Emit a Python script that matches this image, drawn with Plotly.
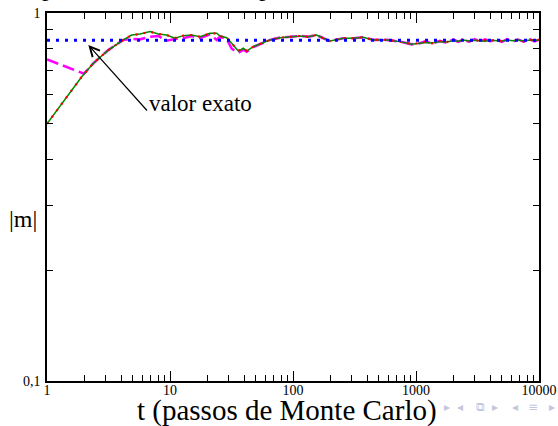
import plotly.graph_objects as go

# ---------------- data ----------------
t_green = [1, 1.915, 2.379, 3.15, 4.172, 4.883, 5.703, 6.877, 8.034, 9.40, 10.98, 12.83,
           15.01, 17.54, 21.14, 23.97, 25.50, 28.91, 31.74, 35.92, 39.44, 42.03, 47.56,
           55.66, 65.01, 78.4, 94.5, 114.0, 133.2, 155.8, 176.3, 199.9, 219.5, 256.4,
           309.2, 372.8, 449.6, 577.9, 741.2, 922.6, 1078, 1200, 1350, 1567, 1750, 2011,
           2200, 2424, 2700, 3000, 3314, 3650, 4000, 4530, 5000, 5500, 6182, 6800, 7500,
           8451, 9200, 10000]
m_green = [0.500, 0.671, 0.730, 0.793, 0.845, 0.871, 0.877, 0.890, 0.877, 0.871, 0.854, 0.868,
           0.871, 0.862, 0.881, 0.881, 0.866, 0.857, 0.827, 0.788, 0.802, 0.788, 0.810,
           0.827, 0.845, 0.857, 0.862, 0.866, 0.862, 0.871, 0.854, 0.839, 0.845, 0.854,
           0.854, 0.859, 0.845, 0.845, 0.836, 0.822, 0.827, 0.832, 0.829, 0.836, 0.834, 0.841,
           0.838, 0.845, 0.840, 0.843, 0.841, 0.838, 0.843, 0.841, 0.839, 0.843, 0.841, 0.844,
           0.840, 0.845, 0.842, 0.845]

t_red = t_green
m_red = [0.500, 0.671, 0.730, 0.793, 0.845, 0.871, 0.877, 0.889, 0.877, 0.871, 0.855, 0.868,
         0.871, 0.862, 0.880, 0.881, 0.866, 0.857, 0.827, 0.790, 0.802, 0.789, 0.810,
         0.827, 0.845, 0.857, 0.863, 0.866, 0.862, 0.872, 0.854, 0.839, 0.846, 0.854,
         0.855, 0.859, 0.845, 0.846, 0.836, 0.824, 0.829, 0.836, 0.827, 0.839, 0.832, 0.846,
         0.836, 0.849, 0.838, 0.846, 0.837, 0.844, 0.840, 0.847, 0.837, 0.846, 0.839, 0.848,
         0.838, 0.847, 0.840, 0.846]

t_magenta = [1, 1.72, 2.0, 2.379, 3.15, 4.172, 4.883, 5.703, 6.877, 8.034, 9.40, 10.98, 12.83,
             15.01, 17.54, 21.14, 23.97, 25.50, 28.91, 31.74, 35.92, 39.44, 42.03, 47.56,
             55.66, 65.01, 78.4, 94.5, 114.0, 133.2, 155.8, 176.3, 199.9, 219.5, 256.4,
             309.2, 372.8, 449.6, 577.9, 741.2, 922.6, 1078, 1200, 1350, 1567, 1750, 2011,
             2200, 2424, 2700, 3000, 3314, 3650, 4000, 4530, 5000, 5500, 6182, 6800, 7500,
             8451, 9200, 10000]
m_magenta = [0.748, 0.700, 0.684, 0.730, 0.793, 0.845, 0.850, 0.848, 0.862, 0.866, 0.841, 0.850,
             0.854, 0.866, 0.854, 0.875, 0.845, 0.862, 0.850, 0.800, 0.780, 0.795, 0.785, 0.808,
             0.827, 0.845, 0.857, 0.862, 0.866, 0.862, 0.871, 0.854, 0.839, 0.845, 0.854,
             0.854, 0.859, 0.845, 0.845, 0.836, 0.822, 0.828, 0.838, 0.826, 0.840, 0.831, 0.847,
             0.835, 0.846, 0.836, 0.849, 0.836, 0.848, 0.838, 0.846, 0.835, 0.849, 0.838, 0.847,
             0.836, 0.848, 0.838, 0.846]

t_exact = [1, 10000]
m_exact = [0.843, 0.843]

x_tickvals = [1, 10, 100, 1000, 10000]
x_ticktext = ["1", "10", "100", "1000", "10000"]
y_tickvals = [0.1, 1]
y_ticktext = ["0,1", "1"]
x_minor = [k * 10 ** d for d in range(4) for k in range(2, 10)]
y_minor = [0.2, 0.3, 0.4, 0.5, 0.6, 0.7, 0.8, 0.9]

SERIF = "Liberation Serif"

fig = go.Figure()
fig.add_trace(go.Scatter(x=t_magenta, y=m_magenta, mode="lines",
                         line=dict(color="#ff00ff", width=2.6, dash="12px,5px")))
fig.add_trace(go.Scatter(x=t_green, y=m_green, mode="lines",
                         line=dict(color="rgb(0,139,0)", width=1.5)))
fig.add_trace(go.Scatter(x=t_red, y=m_red, mode="lines",
                         line=dict(color="#ff0000", width=2.2, dash="2px,6px")))
fig.add_trace(go.Scatter(x=t_exact, y=m_exact, mode="lines",
                         line=dict(color="#0000ff", width=3, dash="3px,6px")))

axis_common = dict(
    type="log", showline=True, linecolor="black", linewidth=1.5, mirror="allticks",
    ticks="inside", tickcolor="black", tickwidth=1.2, showgrid=False, zeroline=False,
    automargin=False,
    tickfont=dict(family=SERIF, size=14, color="black"),
)

fig.update_xaxes(**axis_common, range=[0, 4], tickvals=x_tickvals, ticktext=x_ticktext,
                 ticklen=10, ticklabelstandoff=-5,
                 minor=dict(tickvals=x_minor, ticks="inside", ticklen=6, tickwidth=1,
                            tickcolor="black", showgrid=False))
fig.update_yaxes(**axis_common, range=[-1, 0], tickvals=y_tickvals, ticktext=y_ticktext,
                 ticklen=6, ticklabelstandoff=2,
                 minor=dict(tickvals=y_minor, ticks="inside", ticklen=6, tickwidth=1,
                            tickcolor="black", showgrid=False))

annotations = [
    dict(x=0.336, y=-0.087, xref="x", yref="y", ax=60, ay=67, text="",
         showarrow=True, arrowhead=5, arrowsize=1.6, arrowwidth=1.2, arrowcolor="black"),
    dict(x=0.311, y=0.753, xref="paper", yref="paper", text="valor exato", showarrow=False,
         font=dict(family=SERIF, size=23, color="black"), xanchor="center", yanchor="middle"),
    dict(x=-0.049, y=0.440, xref="paper", yref="paper", text="|m|", showarrow=False,
         font=dict(family=SERIF, size=24, color="black"), xanchor="center", yanchor="middle"),
    dict(x=0.488, y=-0.0815, xref="paper", yref="paper", text="t (passos de Monte Carlo)",
         showarrow=False, font=dict(family=SERIF, size=29, color="black"),
         xanchor="center", yanchor="middle"),
]

# fragments of a title clipped by the top edge of the picture
for sym, px in [("p", 48), ("p", 265), (",", 405)]:
    annotations.append(dict(x=(px - 47) / 492, y=1 + (13 - 4) / 368, xref="paper", yref="paper",
                            text=sym, showarrow=False,
                            font=dict(family=SERIF, size=26, color="black"),
                            xanchor="center", yanchor="bottom"))

# beamer navigation symbols (light)
nav = [("▸", 447), ("◂", 460), ("⧉", 480), ("▸", 495), ("◂", 515), ("≡", 533), ("▸", 552)]
for sym, px in nav:
    annotations.append(dict(x=(px - 47) / 492, y=1 - (407 - 13) / 368, xref="paper", yref="paper",
                            text=sym, showarrow=False,
                            font=dict(family="DejaVu Sans", size=12, color="#c3c7dc"),
                            xanchor="center", yanchor="middle"))

fig.update_layout(
    width=558, height=426,
    margin=dict(l=47, r=19, t=13, b=45),
    paper_bgcolor="white", plot_bgcolor="white",
    showlegend=False,
    annotations=annotations,
)

fig.write_html("out.html", config={"displayModeBar": False},
               post_script="document.body.style.margin='0';document.body.style.overflow='hidden';")
